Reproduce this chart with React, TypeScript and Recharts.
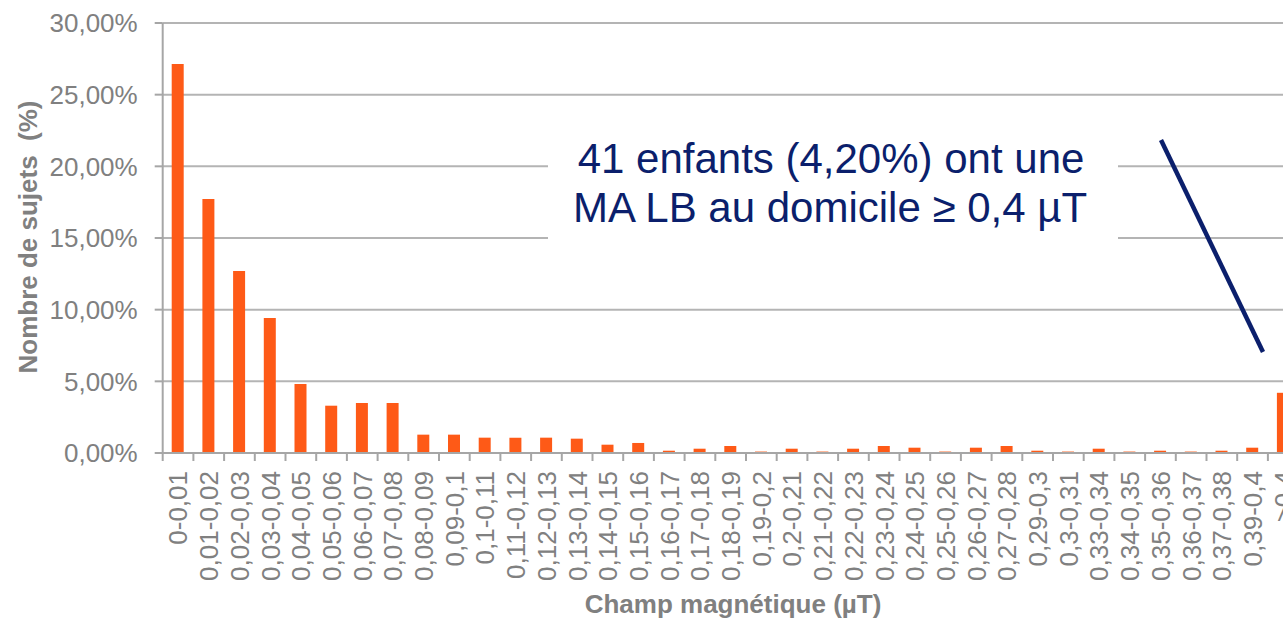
import React from 'react';
import { BarChart, Bar, XAxis, YAxis, CartesianGrid } from 'recharts';

// classes de champ magnétique (µT)
const categories = [
  '0-0,01', '0,01-0,02', '0,02-0,03', '0,03-0,04', '0,04-0,05', '0,05-0,06',
  '0,06-0,07', '0,07-0,08', '0,08-0,09', '0,09-0,1', '0,1-0,11', '0,11-0,12',
  '0,12-0,13', '0,13-0,14', '0,14-0,15', '0,15-0,16', '0,16-0,17', '0,17-0,18',
  '0,18-0,19', '0,19-0,2', '0,2-0,21', '0,21-0,22', '0,22-0,23', '0,23-0,24',
  '0,24-0,25', '0,25-0,26', '0,26-0,27', '0,27-0,28', '0,29-0,3', '0,3-0,31',
  '0,33-0,34', '0,34-0,35', '0,35-0,36', '0,36-0,37', '0,37-0,38', '0,39-0,4',
  '>0,4',
];

// % de sujets par classe
const percents = [
  27.14, 17.72, 12.7, 9.42, 4.81, 3.3, 3.49, 3.49, 1.28, 1.28, 1.07, 1.07,
  1.07, 1.0, 0.58, 0.7, 0.16, 0.3, 0.49, 0.1, 0.3, 0.1, 0.3, 0.49,
  0.37, 0.1, 0.37, 0.49, 0.16, 0.1, 0.3, 0.1, 0.16, 0.1, 0.16, 0.37,
  4.2,
];

const yTicks = [0, 5, 10, 15, 20, 25, 30];

const data = categories.map((name, i) => ({ name, value: percents[i] }));

const CHART_W = 1320;
const CHART_H = 621;
const MARGIN = { top: 23, right: 21.4, left: 0, bottom: 0 };
const Y_AXIS_W = 162.7;
const PLOT_W = CHART_W - MARGIN.left - MARGIN.right - Y_AXIS_W;

const GRAY = '#808080';
const NAVY = '#0b1f6c';
const FONT = '"Liberation Sans", Arial, sans-serif';

const XTick = (props: any) => {
  const { x, y, payload } = props;
  const step = PLOT_W / categories.length;
  return (
    <g>
      <line
        x1={x - step / 2}
        x2={x - step / 2}
        y1={y - 18}
        y2={y - 10}
        stroke="#a6a6a6"
        strokeWidth={2}
      />
      <text
        x={x}
        y={y}
        dy="0.36em"
        transform={`rotate(-90, ${x}, ${y})`}
        textAnchor="end"
        fill={GRAY}
        fontSize={26}
        fontFamily={FONT}
      >
        {payload.value}
      </text>
    </g>
  );
};

const fmt = (v: number) => v.toFixed(2).replace('.', ',') + '%';

export default function App() {
  return (
    <div
      style={{
        position: 'fixed',
        left: 0,
        top: 0,
        width: 1283,
        height: 621,
        overflow: 'hidden',
        background: '#fff',
      }}
    >
      <div style={{ position: 'relative', width: CHART_W, height: CHART_H }}>
        <BarChart width={CHART_W} height={CHART_H} data={data} margin={MARGIN}>
          <CartesianGrid vertical={false} stroke="#b4b4b4" strokeWidth={2} />
          <XAxis
            dataKey="name"
            interval={0}
            height={CHART_H - MARGIN.top - 430}
            tickLine={false}
            tickSize={8}
            tickMargin={10}
            tick={<XTick />}
            axisLine={{ stroke: '#a6a6a6', strokeWidth: 2 }}
          />
          <YAxis
            width={Y_AXIS_W}
            domain={[0, 30]}
            ticks={yTicks}
            tickFormatter={fmt}
            tickSize={8}
            tickMargin={17}
            tickLine={{ stroke: '#a6a6a6', strokeWidth: 2 }}
            axisLine={{ stroke: '#a6a6a6', strokeWidth: 2 }}
            tick={{ fill: GRAY, fontSize: 26, fontFamily: FONT }}
          />
          <Bar dataKey="value" fill="#fe5a17" barSize={12} isAnimationActive={false} />
        </BarChart>

        <svg
          width={CHART_W}
          height={CHART_H}
          style={{ position: 'absolute', left: 0, top: 0, pointerEvents: 'none' }}
        >
          <text
            x={37}
            y={237}
            transform="rotate(-90, 37, 237)"
            textAnchor="middle"
            fill={GRAY}
            fontSize={26}
            fontWeight="bold"
            fontFamily={FONT}
            style={{ whiteSpace: 'pre' }}
          >
            {'Nombre de sujets  (%)'}
          </text>
          <text
            x={733}
            y={613}
            textAnchor="middle"
            fill={GRAY}
            fontSize={26}
            fontWeight="bold"
            fontFamily={FONT}
          >
            Champ magnétique (µT)
          </text>

          {/* encadré d'annotation */}
          <rect x={548} y={112} width={570} height={145} fill="#fff" />
          <text x={831} y={173} textAnchor="middle" fill={NAVY} fontSize={42} fontFamily={FONT}>
            41 enfants (4,20%) ont une
          </text>
          <text x={830} y={222} textAnchor="middle" fill={NAVY} fontSize={42} fontFamily={FONT}>
            MA LB au domicile ≥ 0,4 µT
          </text>
          <line x1={1161} y1={140} x2={1263} y2={352} stroke={NAVY} strokeWidth={4.5} />
        </svg>
      </div>
    </div>
  );
}
